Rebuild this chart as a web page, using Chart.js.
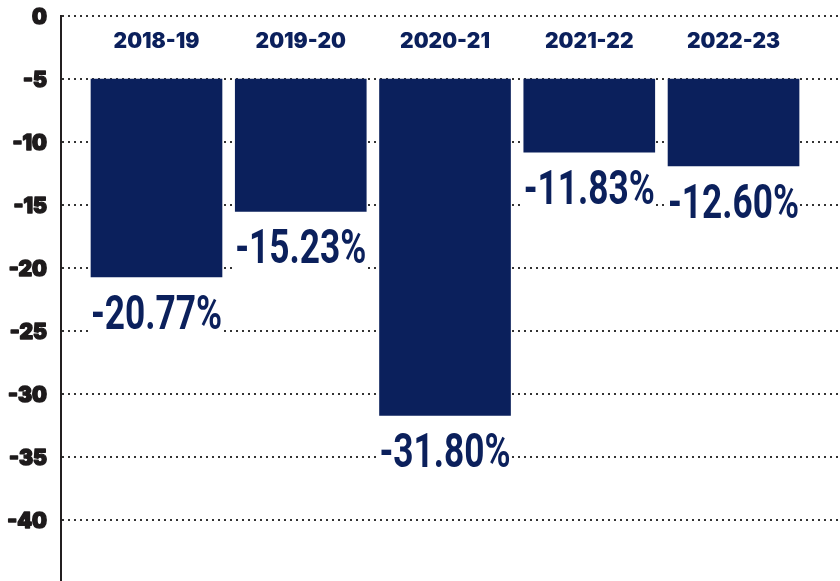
<!DOCTYPE html>
<html>
<head>
<meta charset="utf-8">
<script src="https://cdn.jsdelivr.net/npm/chart.js@4"></script>
<style>
  html, body { margin: 0; padding: 0; background: #fff; height: 581px; overflow: hidden; }
  #wrap { width: 840px; height: 583px; }
</style>
</head>
<body>
<div id="wrap"><canvas id="lossChart"></canvas></div>
<script>
var seasons = ['2018-19', '2019-20', '2020-21', '2021-22', '2022-23'];
var changeLabels = ['-20.77%', '-15.23%', '-31.80%', '-11.83%', '-12.60%'];
// where each bar ends (bars start at -5)
var barEnds = [-20.7, -15.5, -31.7, -10.8, -11.9];
var barStart = -5;
var labelBoxDepth = 5;

var navy = '#0b205c';

var barData = seasons.map(function (s, i) { return { x: i, y: [barStart, barEnds[i]] }; });
var boxData = seasons.map(function (s, i) { return { x: i, y: [barEnds[i], barEnds[i] - labelBoxDepth] }; });

var labelPlugin = {
    id: 'labelPlugin',
    afterDatasetsDraw: function (chart) {
        var ctx = chart.ctx;
        var xs = chart.scales.x, ys = chart.scales.y;
        ctx.save();

        // y tick labels, heavy weight (a thin stroke thickens the glyphs)
        ctx.fillStyle = '#1e1b1c';
        ctx.strokeStyle = '#1e1b1c';
        ctx.lineWidth = 1.4;
        ctx.lineJoin = 'round';
        ctx.textAlign = 'right';
        ctx.textBaseline = 'middle';
        ctx.font = '900 21px Inter';
        ys.ticks.forEach(function (t) {
            if (t.value <= -45) return;
            var ty = ys.getPixelForValue(t.value) + 2;
            ctx.fillText(String(t.value), ys.right - 14, ty);
            ctx.strokeText(String(t.value), ys.right - 14, ty);
        });

        // season names along the top
        ctx.fillStyle = navy;
        ctx.textAlign = 'center';
        ctx.textBaseline = 'alphabetic';
        seasons.forEach(function (s, i) {
            ctx.fillText(s, xs.getPixelForValue(i), chart.chartArea.top + 32);
        });

        // percentage under each bar
        ctx.font = 'bold 49px Roboto';
        changeLabels.forEach(function (t, i) {
            var x = xs.getPixelForValue(i);
            var y = ys.getPixelForValue(barEnds[i]);
            ctx.save();
            ctx.translate(x, y + 52);
            ctx.scale(0.72, 1);
            ctx.fillText(t, 0, 0);
            ctx.restore();
        });
        ctx.restore();
    }
};

var ctx = document.getElementById('lossChart').getContext('2d');
var lossChart = new Chart(ctx, {
    type: 'bar',
    data: {
        datasets: [{
            data: barData,
            backgroundColor: navy,
            barThickness: 131,
            grouped: false
        }, {
            data: boxData,
            backgroundColor: '#ffffff',
            barThickness: 131,
            grouped: false
        }]
    },
    options: {
        responsive: true,
        maintainAspectRatio: false,
        animation: false,
        layout: { padding: { top: 16, bottom: 0, right: 0, left: 0 } },
        plugins: {
            legend: { display: false },
            tooltip: { enabled: false }
        },
        scales: {
            x: {
                type: 'linear',
                display: false,
                offset: false,
                min: -0.662,
                max: 4.738
            },
            y: {
                min: -45,
                max: 0,
                afterFit: function (s) { s.width = 61; },
                ticks: {
                    display: false,
                    stepSize: 5
                },
                grid: {
                    color: '#333333',
                    lineWidth: 2,
                    drawTicks: false
                },
                border: {
                    display: true,
                    color: '#231f20',
                    width: 2,
                    dash: [2, 4]
                }
            }
        }
    },
    plugins: [labelPlugin]
});
</script>
</body>
</html>
